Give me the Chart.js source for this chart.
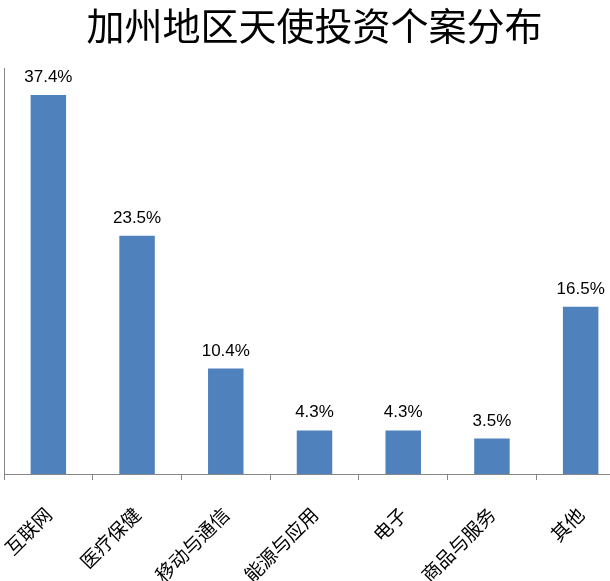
<!DOCTYPE html>
<html>
<head>
<meta charset="utf-8">
<script src="https://cdn.jsdelivr.net/npm/chart.js@4/dist/chart.umd.min.js"></script>
<style>
    html, body { margin: 0; padding: 0; background: #fff; overflow: hidden; }
    #wrap { width: 630px; height: 581px; }
</style>
</head>
<body>
<div id="wrap"><canvas id="angelChart" width="630" height="581"></canvas></div>
<script>
/* 加州地区天使投资个案分布 — bar chart */

const categories = ['互联网', '医疗保健', '移动与通信', '能源与应用', '电子', '商品与服务', '其他'];
const shares = [37.4, 23.5, 10.4, 4.3, 4.3, 3.5, 16.5];
const chartTitle = '加州地区天使投资个案分布';

(function () {
    const axisGray = '#868686';
    const cjkFont = '"Noto Sans CJK SC", "Noto Sans", sans-serif';

    // values above the bars, placed from the bar elements
    const valueLabels = {
        id: 'valueLabels',
        afterDatasetsDraw: function (chart) {
            const ctx = chart.ctx;
            const meta = chart.getDatasetMeta(0);
            ctx.save();
            ctx.font = '17px "Liberation Sans", Arial, sans-serif';
            ctx.fillStyle = '#000';
            ctx.textAlign = 'center';
            ctx.textBaseline = 'alphabetic';
            meta.data.forEach(function (bar, i) {
                ctx.fillText(shares[i].toFixed(1) + '%', bar.x, bar.y - 13);
            });
            ctx.restore();
        },
    };

    new Chart(document.getElementById('angelChart'), {
        type: 'bar',
        data: {
            labels: categories,
            datasets: [{
                data: shares,
                backgroundColor: '#4F81BD',
                barPercentage: 0.4,
                categoryPercentage: 1,
            }],
        },
        options: {
            responsive: false,
            animation: false,
            layout: { padding: { left: 4, right: 5, top: 0, bottom: 0 } },
            plugins: {
                legend: { display: false },
                tooltip: { enabled: false },
                title: {
                    display: true,
                    text: chartTitle,
                    color: '#000',
                    font: { family: cjkFont, size: 38, weight: 'normal' },
                    padding: { top: 3, bottom: 20 },
                },
            },
            scales: {
                x: {
                    afterFit: function (scale) {
                        scale.height = 107;
                        scale.paddingLeft = 0;
                        scale.paddingRight = 0;
                    },
                    grid: {
                        display: true,
                        drawOnChartArea: false,
                        drawTicks: true,
                        tickLength: 6,
                        color: axisGray,
                        offset: true,
                    },
                    border: { display: true, color: axisGray },
                    ticks: {
                        color: '#000',
                        font: { family: cjkFont, size: 19 },
                        minRotation: 45,
                        maxRotation: 45,
                        autoSkip: false,
                        padding: 23,
                    },
                },
                y: {
                    min: 0,
                    max: 40,
                    afterFit: function (scale) { scale.width = 0; },
                    grid: { display: false },
                    border: { display: true, color: axisGray },
                    ticks: { display: false },
                },
            },
        },
        plugins: [valueLabels],
    });
})();
</script>
</body>
</html>
